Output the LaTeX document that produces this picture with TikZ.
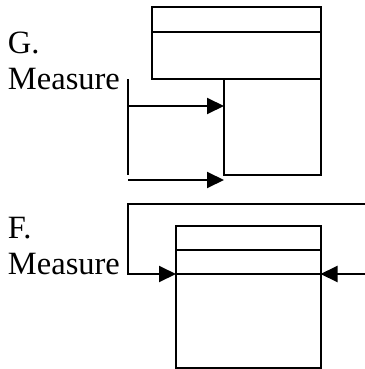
\documentclass[tikz,border=0pt]{standalone}
\usepackage{fontspec}
\setmainfont{Liberation Serif}
\usetikzlibrary{arrows.meta}
\tikzset{
  box/.style={draw, line width=2pt, inner sep=0pt, outer sep=0pt, anchor=north west},
  rule/.style={line width=2pt},
  arr/.style={line width=2pt, -{Triangle[length=17pt,width=16pt]}},
  lbl/.style={inner sep=0pt, outer sep=0pt, anchor=base west, font=\fontsize{32.5pt}{36pt}\selectfont}
}
\begin{document}
\begin{tikzpicture}[x=1pt,y=-1pt]
\useasboundingbox (0,0) rectangle (364,369);
% ---- G part ----
\node[lbl] (gl1) at (8,53) {G.};
\node[lbl] (gl2) at (8,89) {Measure};
\node[box, minimum width=168.5pt, minimum height=72pt] (gtop) at (152,7) {};
\draw[rule] (gtop.west |- 0,32) -- (gtop.east |- 0,32);
\node[box, minimum width=96.5pt, minimum height=96pt] (glow) at (224,79) {};
\coordinate (gv1) at (128,79);
\coordinate (gv2) at (128,175);
\draw[rule] (gv1) -- (gv2);
\coordinate (ga1) at (128,106);
\coordinate (ga2) at (128,180);
\draw[arr] (ga1) -- (glow.west |- ga1);
\draw[arr] (ga2) -- (glow.west |- ga2);
% ---- F part ----
\node[lbl] (fl1) at (8,238) {F.};
\node[lbl] (fl2) at (8,274) {Measure};
\node[box, minimum width=144.5pt, minimum height=142pt] (fbox) at (176,226) {};
\draw[rule] (fbox.west |- 0,250) -- (fbox.east |- 0,250);
\draw[rule] (fbox.west |- 0,274) -- (fbox.east |- 0,274);
\coordinate (fb1) at (368,204);
\coordinate (fb2) at (128,204);
\coordinate (fb3) at (128,274);
\draw[arr] (fb1) -- (fb2) -- (fb3) -- (fbox.west |- fb3);
\coordinate (fr) at (368,274);
\draw[arr] (fr) -- (fbox.east |- fr);
\end{tikzpicture}
\end{document}
